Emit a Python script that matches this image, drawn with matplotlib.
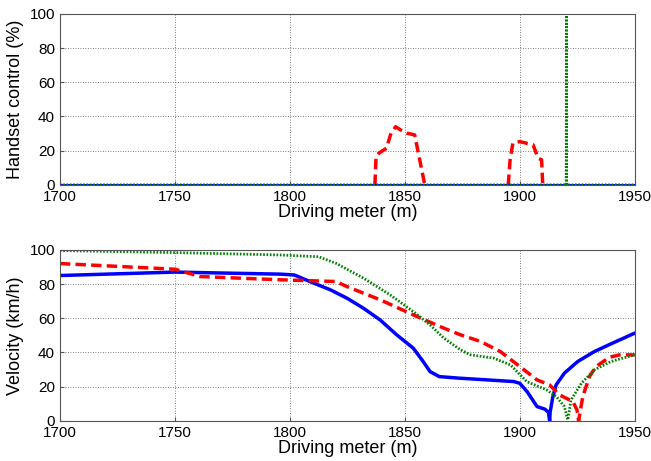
import numpy as np
import matplotlib.pyplot as plt

plt.rcParams['font.family'] = ['Liberation Sans', 'DejaVu Sans']

# ── top panel: handset control (%) ───────────────────────────────────────────
hc_blue_x = [1700, 1950]
hc_blue_y = [0, 0]

hc_red_x = [1837, 1837.5, 1838.7, 1842, 1844, 1846, 1848.3, 1851, 1854.3, 1856.5, 1858.7]
hc_red_y = [0, 16.5, 18.5, 21.4, 30.2, 34, 32, 30.2, 29.2, 14.6, 0]
hc_red2_x = [1895, 1895.8, 1897, 1900, 1905.8, 1908, 1909.5, 1910]
hc_red2_y = [0, 14.6, 24.4, 25.3, 23.4, 15.6, 14.6, 0]

hc_green_x = [1700, 1920.2, 1920.3, 1920.4, 1950]
hc_green_y = [0, 0, 100, 0, 0]

# ── bottom panel: velocity (km/h) ────────────────────────────────────────────
v_blue_x = [1700, 1750, 1796, 1802, 1810.5, 1817.7, 1824.9, 1832, 1839.3, 1846.5, 1853.7, 1858,
            1861, 1865, 1873.5, 1885.5, 1897.4, 1900, 1903.2, 1907.5, 1911, 1912.5, 1913,
            1913.2, 1914.4, 1915.8, 1919.4, 1925.2, 1932.4, 1939.6, 1950]
v_blue_y = [85, 87, 85.8, 85.3, 80.5, 76.6, 71.7, 65.9, 59, 50.3, 42.5, 34.7,
            28.8, 25.9, 25, 24, 23, 22, 17.1, 8.4, 6.8, 5, 0,
            5, 14.2, 21, 27.9, 34.7, 40.5, 45, 51.3]

v_red_x = [1700, 1750, 1761, 1796, 1820, 1824.9, 1839.3, 1853.7, 1867, 1874.3, 1883, 1891.6, 1900,
           1907.5, 1913, 1917.3, 1923.1, 1924.9, 1925.6, 1927.4, 1930.3, 1933.2, 1939, 1943.4, 1950]
v_red_y = [92, 88.7, 84.4, 82.5, 81.5, 78.5, 70.8, 62, 54.2, 50.3, 46.4, 40.5, 31.8,
           24, 21, 15.2, 11.3, 6.4, 0, 14.2, 25.9, 31.8, 37.2, 38.6, 38.6]

v_green_x = [1700, 1750, 1796, 1812.4, 1820, 1832, 1843.6, 1853.7, 1861, 1867, 1874.3, 1878.6,
             1888.7, 1896, 1903, 1911.7, 1915.9, 1919.4, 1920.9, 1922.3, 1926.8, 1932.4, 1939.6, 1950]
v_green_y = [99.6, 98.4, 97, 96, 92.2, 83.5, 73.7, 63.9, 56.1, 48.4, 41.5, 38.6,
             36.7, 32.7, 23, 18.1, 14.2, 8.4, 0.6, 12.3, 22, 29.8, 34.7, 38.6]

x_ticks = [1700, 1750, 1800, 1850, 1900, 1950]
y_ticks = [0, 20, 40, 60, 80, 100]

red_dash = (0, (3, 1.5))
green_dot = (0, (0.6, 0.6))

fig = plt.figure(figsize=(6.51, 4.61), dpi=100)
ax1 = fig.add_axes([0.092, 0.599, 0.883, 0.371])
ax2 = fig.add_axes([0.092, 0.087, 0.883, 0.371])

ax1.plot(hc_red_x, hc_red_y, color='#ff0000', lw=2.5, ls=red_dash)
ax1.plot(hc_red2_x, hc_red2_y, color='#ff0000', lw=2.5, ls=red_dash)
ax1.plot(hc_blue_x, hc_blue_y, color='#0000ff', lw=2.2)
ax1.plot(hc_green_x, hc_green_y, color='#008000', lw=2, ls=green_dot)
ax1.set_ylabel('Handset control (%)')

ax2.plot(v_blue_x, v_blue_y, color='#0000ff', lw=2.5)
ax2.plot(v_red_x, v_red_y, color='#ff0000', lw=2.5, ls=red_dash)
ax2.plot(v_green_x, v_green_y, color='#008000', lw=2, ls=green_dot)
ax2.set_ylabel('Velocity (km/h)')

for ax in (ax1, ax2):
    ax.set_xlim(1700, 1950)
    ax.set_ylim(0, 100)
    ax.set_xticks(x_ticks)
    ax.set_yticks(y_ticks)
    ax.set_xlabel('Driving meter (m)', fontsize=13, labelpad=0)
    ax.yaxis.label.set_size(13)
    ax.grid(True, ls=(0, (1, 2)), color='#555555', lw=0.6)
    ax.tick_params(direction='in', labelsize=11, length=3, color='#555555')
    for s in ax.spines.values():
        s.set_color('#555555')
        s.set_linewidth(0.8)

plt.savefig('out.png', dpi=100)
